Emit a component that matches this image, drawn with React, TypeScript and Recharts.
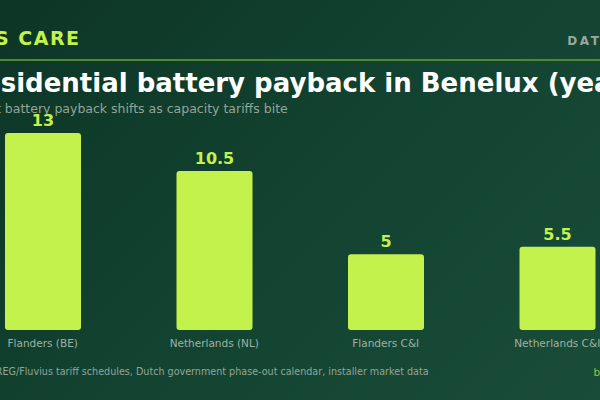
import React from 'react';
import { BarChart, Bar, XAxis, YAxis, LabelList } from 'recharts';

const categories = ['Flanders (BE)', 'Netherlands (NL)', 'Flanders C&I', 'Netherlands C&I'];
const paybackYears = [13, 10.5, 5, 5.5];

const data = categories.map((name, i) => ({ name, years: paybackYears[i] }));

const FONT = '"DejaVu Sans", sans-serif';
const LIME = '#c3f24c';

const App: React.FC = () => {
  return (
    <div
      style={{
        position: 'fixed',
        top: 0,
        left: 0,
        width: 600,
        height: 400,
        overflow: 'hidden',
        background: 'linear-gradient(135deg, #0d3526 0%, #134432 55%, #194c39 100%)',
        fontFamily: FONT,
      }}
    >
      <div style={{ position: 'absolute', left: -43, top: 0, width: 686, height: 400 }}>
        {/* header */}
        <div
          style={{
            position: 'absolute',
            left: -14,
            top: 27,
            fontSize: 19,
            fontWeight: 700,
            letterSpacing: 1.5,
            color: LIME,
            whiteSpace: 'nowrap',
          }}
        >
          AMPS CARE
        </div>
        <div
          style={{
            position: 'absolute',
            right: -22,
            top: 34,
            fontSize: 12,
            fontWeight: 700,
            letterSpacing: 2.5,
            color: '#9aa89d',
            whiteSpace: 'nowrap',
          }}
        >
          DATA DESK
        </div>
        <div
          style={{
            position: 'absolute',
            left: -20,
            right: -20,
            top: 59,
            height: 2,
            background: '#4f8a2e',
          }}
        />

        {/* title block */}
        <div
          style={{
            position: 'absolute',
            left: 6,
            top: 68,
            fontSize: 26,
            fontWeight: 700,
            color: '#ffffff',
            whiteSpace: 'nowrap',
          }}
        >
          Residential battery payback in Benelux (years)
        </div>
        <div
          style={{
            position: 'absolute',
            left: 11,
            top: 101,
            fontSize: 12.5,
            color: '#93a597',
            whiteSpace: 'nowrap',
          }}
        >
          What battery payback shifts as capacity tariffs bite
        </div>

        {/* chart */}
        <div style={{ position: 'absolute', left: 0, top: 100 }}>
          <BarChart
            width={686}
            height={260}
            data={data}
            margin={{ top: 33, right: 0, bottom: 0, left: 0 }}
            barSize={76}
          >
            <XAxis
              dataKey="name"
              axisLine={false}
              tickLine={false}
              height={30}
              tick={{ fontSize: 10.5, fill: '#9fb2a4', fontFamily: FONT, dy: 2 }}
              interval={0}
            />
            <YAxis hide domain={[0, 13]} />
            <Bar dataKey="years" fill={LIME} radius={[3, 3, 3, 3]} isAnimationActive={false}>
              <LabelList
                dataKey="years"
                position="top"
                offset={7}
                style={{ fill: LIME, fontSize: 16, fontWeight: 700, fontFamily: FONT }}
              />
            </Bar>
          </BarChart>
        </div>

        {/* footer */}
        <div
          style={{
            position: 'absolute',
            left: -7,
            top: 366,
            fontSize: 9.6,
            color: '#93a597',
            whiteSpace: 'nowrap',
          }}
        >
          Source: VREG/Fluvius tariff schedules, Dutch government phase-out calendar, installer market data
        </div>
        <div
          style={{
            position: 'absolute',
            right: -24,
            top: 366,
            fontSize: 10.5,
            color: '#8cc43c',
            whiteSpace: 'nowrap',
          }}
        >
          by Amps Care
        </div>
      </div>
    </div>
  );
};

export default App;
